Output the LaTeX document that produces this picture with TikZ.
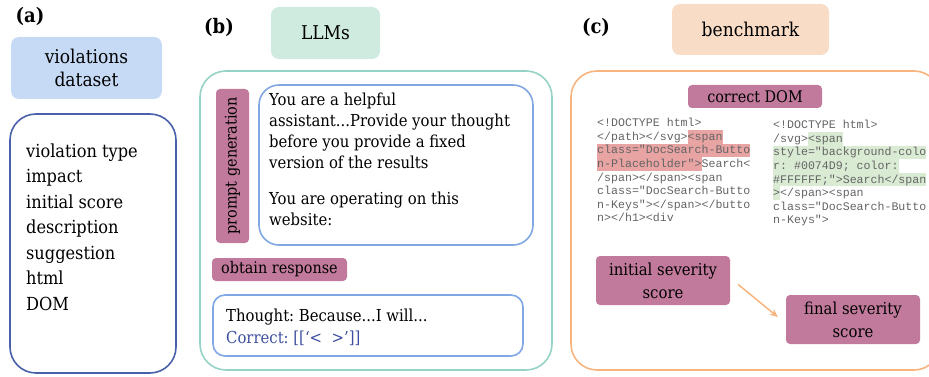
\documentclass[tikz,border=0pt]{standalone}
\usepackage{fontspec}
\setmainfont{DejaVu Serif Condensed}
\setmonofont{Liberation Mono}
\usetikzlibrary{positioning,arrows.meta}
\frenchspacing

\definecolor{dsblue}{HTML}{C6DAF6}
\definecolor{listblue}{HTML}{4B60AB}
\definecolor{llmgreen}{HTML}{CFEADF}
\definecolor{llmteal}{HTML}{96D3C7}
\definecolor{promptblue}{HTML}{80A7E3}
\definecolor{tagmauve}{HTML}{C17A9B}
\definecolor{benchpeach}{HTML}{F8DCC5}
\definecolor{benchorange}{HTML}{F8B47E}
\definecolor{codered}{HTML}{E8A3A3}
\definecolor{codegreen}{HTML}{DAEBD4}
\definecolor{codegray}{HTML}{646464}
\definecolor{correctblue}{HTML}{3C4E9E}

\newcommand{\hlred}[1]{{\setlength{\fboxsep}{0pt}\colorbox{codered}{\rule[-3.4pt]{0pt}{13.6pt}#1}}}
\newcommand{\hlgreen}[1]{{\setlength{\fboxsep}{0pt}\colorbox{codegreen}{\rule[-3.4pt]{0pt}{13.6pt}#1}}}

\tikzset{
  header/.style={rounded corners=8pt, inner sep=0pt, align=center,
    font=\fontsize{19}{23}\selectfont},
  panel/.style={draw, line width=1.6pt, rounded corners=26pt, inner sep=0pt},
  promptbox/.style={draw=promptblue, line width=1.6pt, rounded corners=20pt, inner sep=0pt},
  tag/.style={fill=tagmauve, rounded corners=4pt, inner sep=0pt, align=center,
    font=\fontsize{16}{19}\selectfont},
  steplabel/.style={font=\fontsize{20}{22}\selectfont\bfseries},
  codetext/.style={anchor=north west, inner sep=0pt, align=left, text=codegray,
    font=\fontsize{11.6}{13.6}\ttfamily}
}

\begin{document}
\begin{tikzpicture}[x=1pt,y=-1pt]
  \useasboundingbox (0,0) rectangle (929,377);

  % (a) dataset
  \node[steplabel] (labela) at (30,16) {(a)};
  \node[header, fill=dsblue, minimum width=151pt, minimum height=62pt] (dataset) at (86.5,68) {violations\\dataset};
  \node[panel, draw=listblue, minimum width=166pt, minimum height=259pt] (listbox) at (93,243.5) {};
  \node[anchor=west, inner sep=0pt, align=left, font=\fontsize{18}{25.5}\selectfont] (fields) at (26,227)
    {violation type\\impact\\initial score\\description\\suggestion\\html\\DOM};

  % (b) LLMs
  \node[steplabel] (labelb) at (219,27) {(b)};
  \node[header, fill=llmgreen, minimum width=109pt, minimum height=52pt] (llms) at (325.5,33) {LLMs};
  \node[panel, draw=llmteal, minimum width=352pt, minimum height=299pt] (llmbox) at (376,220.5) {};
  \node[tag, rotate=90, minimum width=154pt, minimum height=33pt] (promptgen) at (232.5,166) {prompt generation};
  \node[promptbox, minimum width=274pt, minimum height=160pt] (prompt) at (396,165) {};
  \node[anchor=north west, inner sep=0pt, align=left, font=\fontsize{16.5}{21}\selectfont] (prompttext) at (269,93)
    {You are a helpful\\assistant...Provide your thought\\before you provide a fixed\\version of the results\\[15pt]You are operating on this\\website:};
  \node[tag, minimum width=135pt, minimum height=23pt] (obtain) at (279.5,269.5) {obtain response};
  \node[promptbox, rounded corners=12pt, minimum width=310pt, minimum height=61pt] (response) at (368,325.5) {};
  \node[anchor=west, inner sep=0pt, align=left, font=\fontsize{16.5}{22}\selectfont] (responsetext) at (226,327)
    {Thought: Because...I will...\\\textcolor{correctblue}{Correct: [[`<\ \ >']]}};

  % (c) benchmark
  \node[steplabel] (labelc) at (596,27) {(c)};
  \node[header, fill=benchpeach, minimum width=157pt, minimum height=51pt] (bench) at (750.5,29.5) {benchmark};
  \node[panel, draw=benchorange, minimum width=369pt, minimum height=299pt] (benchbox) at (755.5,220.5) {};
  \node[tag, minimum width=134pt, minimum height=23pt] (correctdom) at (755,96.5) {correct DOM};
  \node[codetext] (codeold) at (597,118)
    {<!DOCTYPE html>\\
     </path></svg>\hlred{<span}\\
     \hlred{class="DocSearch-Butto}\\
     \hlred{n-Placeholder">}Search<\\
     /span></span><span\\
     class="DocSearch-Butto\\
     n-Keys"></span></butto\\
     n></h1><div};
  \node[codetext] (codenew) at (773,120)
    {<!DOCTYPE html>\\
     /svg>\hlgreen{<span}\\
     \hlgreen{style="background-colo}\\
     \hlgreen{r: \#0074D9; color:}\\
     \hlgreen{\#FFFFFF;">Search</span}\\
     \hlgreen{>}</span><span\\
     class="DocSearch-Butto\\
     n-Keys">};
  \node[tag, minimum width=134pt, minimum height=49pt, font=\fontsize{16.5}{23}\selectfont] (initial) at (663,280.5) {initial severity\\score};
  \node[tag, minimum width=134pt, minimum height=49pt, font=\fontsize{16.5}{23}\selectfont] (final) at (853,319.5) {final severity\\score};
  \draw[-{Stealth[length=8pt,width=7pt]}, draw=benchorange, line width=1.5pt]
    ([xshift=8pt,yshift=-4pt]initial.east) -- ([xshift=-8pt,yshift=2.5pt]final.west);
\end{tikzpicture}
\end{document}
